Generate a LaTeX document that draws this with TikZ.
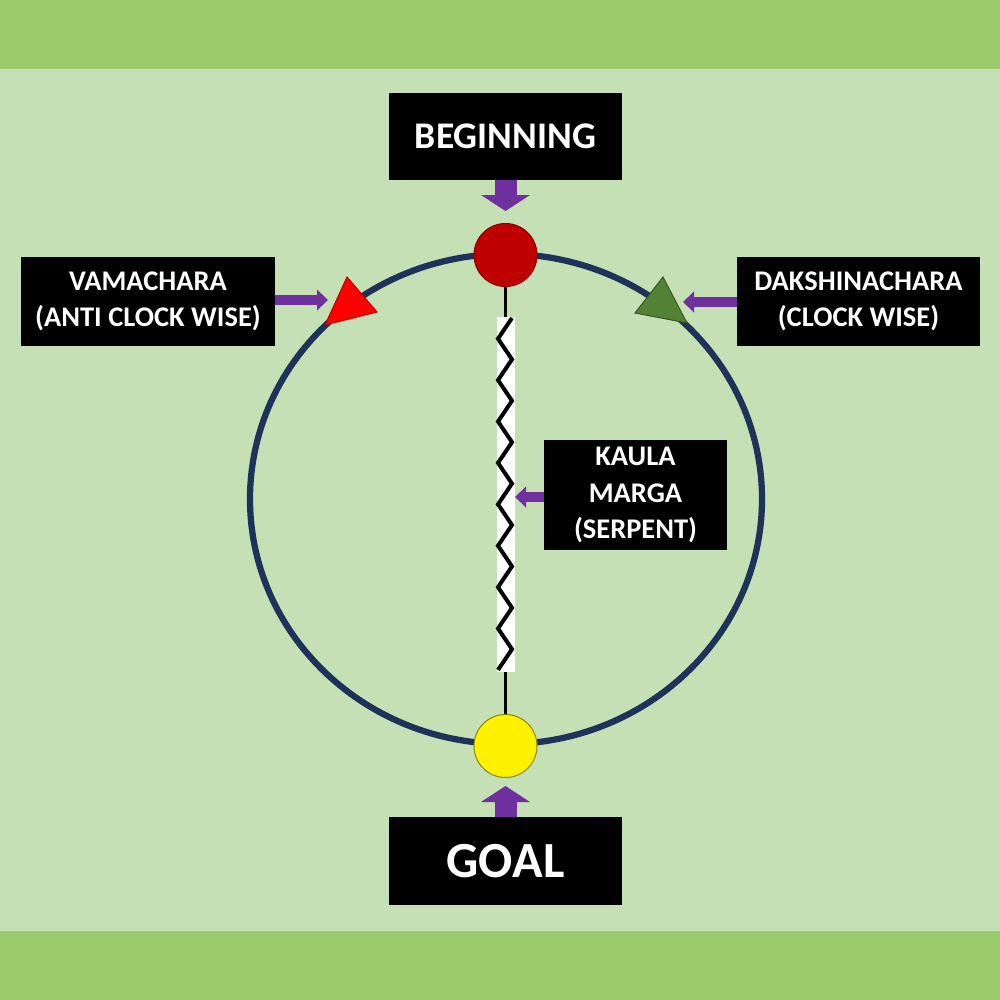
\documentclass[tikz,border=0pt]{standalone}
\usepackage{fontspec}
\setmainfont{Carlito}
\usetikzlibrary{arrows.meta}
\definecolor{band}{RGB}{155,203,106}
\definecolor{pale}{RGB}{197,224,180}
\definecolor{ringblue}{RGB}{30,50,90}
\definecolor{plum}{RGB}{112,48,160}
\definecolor{leaf}{RGB}{84,130,53}
\definecolor{darkleaf}{RGB}{56,87,35}
\begin{document}
\begin{tikzpicture}[x=0.2mm,y=-0.2mm,
  tag/.style={fill=black,text=white,align=center,inner sep=0pt,
    font=\bfseries\fontsize{16.2}{20.7}\selectfont},
  dot/.style={circle,line width=0.2mm,minimum size=12.6mm,inner sep=0pt},
  push/.style={plum,line width=2mm,-{Triangle[line width=0pt,length=2.2mm,width=4.2mm]}},
  big push/.style={plum,line width=4.4mm,-{Triangle[line width=0pt,length=3.2mm,width=9.8mm]}},
  stem/.style={black,line width=0.6mm}]
  \useasboundingbox (0,0) rectangle (1000,1000);
  \fill[band] (0,0) rectangle (1000,1000);
  \fill[pale] (0,69) rectangle (1000,931);

  % the path round
  \draw[ringblue,line width=1.25mm] (506,499) ellipse [x radius=256,y radius=245];

  % start and end
  \node[dot,draw=red!55!black,fill=red!75!black] (top) at (505.5,255) {};
  \node[dot,draw=olive,fill=yellow] (bottom) at (505.5,746) {};

  % serpent
  \node[fill=white,minimum width=3.6mm,minimum height=71mm,inner sep=0pt] (snake) at (505.5,494.5) {};
  \draw[stem] (top.south) -- (snake.north);
  \draw[stem] (snake.south) -- (bottom.north);
  \draw[black,line width=0.8mm,line join=miter] (512,318)
    \foreach \k in {1,...,17}{ -- ({isodd(\k) ? 498 : 512},{318+20.7*\k}) };

  % direction marks
  \filldraw[fill=red,draw=red!75!black,line width=0.2mm] (347,277) -- (377,312) -- (325,325) -- cycle;
  \filldraw[fill=leaf,draw=darkleaf,line width=0.2mm] (663,277) -- (635,313) -- (687,323) -- cycle;

  % labels
  \node[tag,minimum width=46.6mm,minimum height=17.4mm,font=\bfseries\fontsize{21.4}{25}\selectfont] (begin) at (505.5,136.5) {BEGINNING};
  \node[tag,minimum width=46.6mm,minimum height=17.6mm,font=\bfseries\fontsize{28.8}{33}\selectfont] (goal) at (505.5,861) {GOAL};
  \node[tag,minimum width=50.8mm,minimum height=17.8mm] (vama) at (148,301.5) {VAMACHARA\\(ANTI CLOCK WISE)};
  \node[tag,minimum width=48.6mm,minimum height=17.8mm] (daksh) at (858.5,301.5) {DAKSHINACHARA\\(CLOCK WISE)};
  \node[tag,minimum width=36.6mm,minimum height=22mm] (kaula) at (635.5,495) {KAULA\\MARGA\\(SERPENT)};

  % pointers
  \coordinate (begin tip) at (505.5,211);
  \coordinate (goal tip) at (505.5,786);
  \coordinate (vama tip) at (328,300);
  \coordinate (daksh tip) at (683,302);
  \coordinate (kaula tip) at (515,497);
  \draw[big push] (begin.south) -- (begin tip);
  \draw[big push] (goal.north) -- (goal tip);
  \draw[push] (vama.east |- vama tip) -- (vama tip);
  \draw[push] (daksh.west |- daksh tip) -- (daksh tip);
  \draw[push] (kaula.west |- kaula tip) -- (kaula tip);
\end{tikzpicture}
\end{document}
